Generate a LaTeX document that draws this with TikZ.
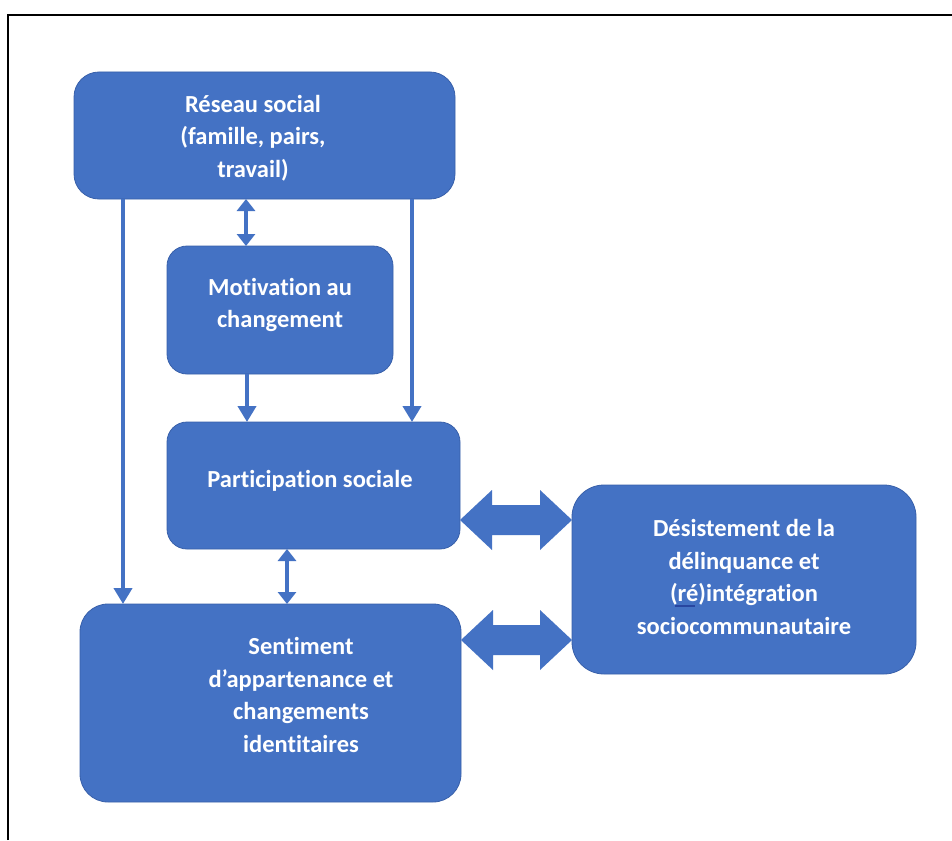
\documentclass[tikz,border=0pt]{standalone}
\usepackage{fontspec}
\setmainfont{Carlito}[Ligatures={NoCommon}]
\usetikzlibrary{arrows.meta,calc}
\definecolor{boxblue}{RGB}{68,114,196}
\definecolor{edgeblue}{RGB}{56,96,170}
\definecolor{squig}{RGB}{40,70,160}
\begin{document}
\begin{tikzpicture}[x=1pt,y=-1pt,
 box/.style={draw=edgeblue, line width=0.8pt, fill=boxblue, rounded corners=25pt, anchor=north west, inner sep=0pt, outer sep=0pt},
 txt/.style={text=white, font=\fontsize{24.5}{32.5}\selectfont\bfseries, align=center},
 conn/.style={draw=boxblue, line width=4pt, -{Triangle[width=18pt,length=16pt]}},
 dconn/.style={draw=boxblue, line width=4pt, {Triangle[width=18pt,length=12pt]}-{Triangle[width=18pt,length=12pt]}},
 blk/.style={fill=boxblue}]
\useasboundingbox (0,0) rectangle (952,840);
\fill[white] (0,0) rectangle (952,840);
\draw[line width=2pt] (8,840) -- (8,15) -- (952,15);

\node[box, minimum width=381pt, minimum height=127pt] (res) at (74,72) {};
\node[box, minimum width=226pt, minimum height=128pt, rounded corners=20pt] (mot) at (167,246) {};
\node[box, minimum width=293pt, minimum height=127pt, rounded corners=20pt] (part) at (167,422) {};
\node[box, minimum width=381pt, minimum height=198pt, rounded corners=28pt] (sent) at (80,604) {};
\node[box, minimum width=344pt, minimum height=189pt, rounded corners=32pt] (des) at (572,485) {};

\node[txt] (t1) at (253,138) {Réseau social\\(famille, pairs,\\travail)};
\node[txt] (t2) at (280,305) {Motivation au\\changement};
\node[txt] (t3) at (310,481) {Participation sociale};
\node[txt] (t4) at (301,695) {Sentiment\\d’appartenance et\\changements\\identitaires};
\node[txt] (t5) at (744,577) {Désistement de la\\délinquance et\\(ré)intégration\\sociocommunautaire};
\draw[squig, line width=1.2pt] (675,606) -- (695,606);

\draw[conn] (res.south -| 123,0) -- (sent.north -| 123,0);
\draw[conn] (res.south -| 412,0) -- (part.north -| 412,0);
\draw[dconn] (res.south -| 246,0) -- (mot.north -| 246,0);
\draw[conn] (mot.south -| 247,0) -- (part.north -| 247,0);
\draw[dconn] (part.south -| 287,0) -- (sent.north -| 287,0);

\fill[blk] (part.east |- 0,520) -- ++(32,-30) -- ++(0,15) -- ($(des.west |- 0,505)+(-32,0)$) -- ++(0,-15) -- (des.west |- 0,520) -- ++(-32,30) -- ++(0,-15) -- ($(part.east |- 0,535)+(32,0)$) -- ++(0,15) -- cycle;
\fill[blk] (sent.east |- 0,640) -- ++(32,-30) -- ++(0,15) -- ($(des.west |- 0,625)+(-32,0)$) -- ++(0,-15) -- (des.west |- 0,640) -- ++(-32,30) -- ++(0,-15) -- ($(sent.east |- 0,655)+(32,0)$) -- ++(0,15) -- cycle;
\end{tikzpicture}
\end{document}
